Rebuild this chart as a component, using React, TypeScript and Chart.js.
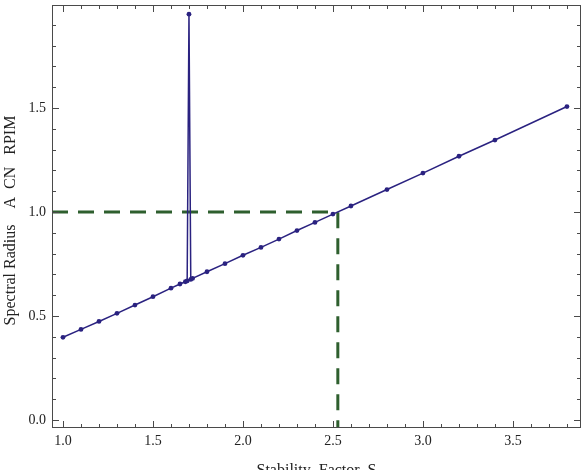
import React, { useEffect, useRef } from "react";
import { Chart, registerables } from "chart.js";

Chart.register(...registerables);

// Stability factor S (x) and spectral radius (y)
const stabilityFactor = [1.0, 1.1, 1.2, 1.3, 1.4, 1.5, 1.6, 1.65, 1.68, 1.69, 1.7, 1.71, 1.72, 1.8, 1.9, 2.0, 2.1, 2.2, 2.3, 2.4, 2.5, 2.6, 2.8, 3.0, 3.2, 3.4, 3.8];
const spectralRadius = [0.398, 0.436, 0.474, 0.513, 0.553, 0.593, 0.634, 0.654, 0.665, 0.669, 1.951, 0.676, 0.681, 0.713, 0.752, 0.792, 0.830, 0.870, 0.911, 0.950, 0.990, 1.029, 1.108, 1.187, 1.268, 1.346, 1.507];

// Stability threshold (reference lines)
const thresholdS = 2.527;
const thresholdRho = 1.0;

// Axis ranges and tick labels
const xMin = 0.939;
const xMax = 3.878;
const yMin = -0.038;
const yMax = 1.995;
const xMajorTicks = [1.0, 1.5, 2.0, 2.5, 3.0, 3.5];
const yMajorTicks = [0.0, 0.5, 1.0, 1.5];
const xMinorTicks = [1.0, 1.1, 1.2, 1.3, 1.4, 1.5, 1.6, 1.7, 1.8, 1.9, 2.0, 2.1, 2.2, 2.3, 2.4, 2.5, 2.6, 2.7, 2.8, 2.9, 3.0, 3.1, 3.2, 3.3, 3.4, 3.5, 3.6, 3.7, 3.8];
const yMinorTicks = [0.0, 0.1, 0.2, 0.3, 0.4, 0.5, 0.6, 0.7, 0.8, 0.9, 1.0, 1.1, 1.2, 1.3, 1.4, 1.5, 1.6, 1.7, 1.8, 1.9];

const xTitle = "Stability  Factor  S";
const yTitle = "Spectral Radius    A  CN   RPIM  ";

const FONT = "'Liberation Serif', 'DejaVu Serif', serif";
const BLUE = "#2a2280";
const GREEN = "#2e5f2e";
const FRAME = "#4a4a4a";

const framePlugin = {
  id: "frameTicks",
  afterDatasetsDraw(chart: any) {
    const { ctx, chartArea } = chart;
    const { left, right, top, bottom } = chartArea;
    const xs = chart.scales.x;
    const ys = chart.scales.y;
    ctx.save();
    ctx.strokeStyle = FRAME;
    ctx.lineWidth = 1;
    ctx.beginPath();
    const near = (a: number, arr: number[]) => arr.some((b) => Math.abs(a - b) < 1e-6);
    for (const v of xMinorTicks) {
      const px = Math.round(xs.getPixelForValue(v)) + 0.5;
      const len = near(v, xMajorTicks) ? 7 : 4;
      ctx.moveTo(px, bottom);
      ctx.lineTo(px, bottom - len);
      ctx.moveTo(px, top);
      ctx.lineTo(px, top + len);
    }
    for (const v of yMinorTicks) {
      const py = Math.round(ys.getPixelForValue(v)) + 0.5;
      const len = near(v, yMajorTicks) ? 7 : 4;
      ctx.moveTo(left, py);
      ctx.lineTo(left + len, py);
      ctx.moveTo(right, py);
      ctx.lineTo(right - len, py);
    }
    ctx.stroke();
    ctx.strokeRect(Math.round(left) + 0.5, Math.round(top) + 0.5, Math.round(right - left) - 1, Math.round(bottom - top) - 1);
    ctx.restore();
  },
};

export default function App() {
  const ref = useRef<HTMLCanvasElement | null>(null);

  useEffect(() => {
    if (!ref.current) return;
    const mainData = stabilityFactor.map((s, i) => ({ x: s, y: spectralRadius[i] }));
    const thresholdData = [
      { x: xMin, y: thresholdRho },
      { x: thresholdS, y: thresholdRho },
      { x: thresholdS, y: yMin },
    ];
    const chart = new Chart(ref.current, {
      type: "scatter",
      data: {
        datasets: [
          {
            data: mainData,
            showLine: true,
            borderColor: BLUE,
            backgroundColor: BLUE,
            borderWidth: 1.5,
            pointRadius: 2.4,
            pointBorderWidth: 0,
            pointBackgroundColor: BLUE,
            order: 0,
          },
          {
            data: thresholdData,
            showLine: true,
            borderColor: GREEN,
            borderWidth: 3,
            borderDash: [16, 10],
            pointRadius: 0,
            order: 1,
          },
        ],
      },
      options: {
        animation: false,
        responsive: false,
        maintainAspectRatio: false,
        layout: { padding: { top: 5, right: 7, left: 0, bottom: 0 } },
        plugins: { legend: { display: false }, tooltip: { enabled: false } },
        scales: {
          x: {
            type: "linear",
            min: xMin,
            max: xMax,
            grid: { display: false, drawTicks: false },
            border: { display: false },
            afterBuildTicks: (scale: any) => {
              scale.ticks = xMajorTicks.map((v) => ({ value: v }));
            },
            afterFit: (scale: any) => {
              scale.height = 54;
              scale.paddingLeft = 0;
              scale.paddingRight = 0;
            },
            ticks: {
              padding: 5,
              color: "#222",
              font: { family: FONT, size: 14 },
              callback: (v: any) => Number(v).toFixed(1),
            },
            title: {
              display: true,
              text: xTitle,
              color: "#222",
              font: { family: FONT, size: 16 },
              padding: { top: 0, bottom: 2 },
            },
          },
          y: {
            type: "linear",
            min: yMin,
            max: yMax,
            grid: { display: false, drawTicks: false },
            border: { display: false },
            afterBuildTicks: (scale: any) => {
              scale.ticks = yMajorTicks.map((v) => ({ value: v }));
            },
            afterFit: (scale: any) => {
              scale.width = 52;
              scale.paddingTop = 0;
              scale.paddingBottom = 0;
            },
            ticks: {
              padding: 6,
              color: "#222",
              font: { family: FONT, size: 14 },
              callback: (v: any) => Number(v).toFixed(1),
            },
            title: {
              display: true,
              text: yTitle,
              color: "#222",
              font: { family: FONT, size: 16 },
              padding: { top: 1, bottom: 0 },
            },
          },
        },
      },
      plugins: [framePlugin],
    } as any);
    return () => chart.destroy();
  }, []);

  return (
    <div style={{ position: "absolute", left: 0, top: 0, width: 588, height: 470, overflow: "hidden", background: "#fff" }}>
      <canvas ref={ref} width={588} height={482} style={{ display: "block", width: 588, height: 482 }} />
    </div>
  );
}
